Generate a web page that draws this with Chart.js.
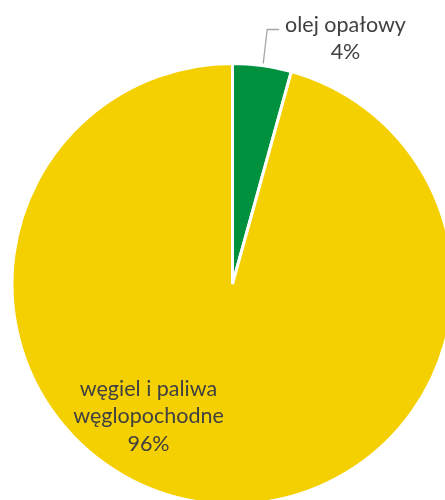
<!DOCTYPE html>
<html>
<head>
<meta charset="utf-8">
<script src="https://cdn.jsdelivr.net/npm/chart.js@4"></script>
<style>
  html, body { margin: 0; padding: 0; background: #fff; overflow: hidden; }
  #wrap { position: absolute; left: 0; top: 0; width: 465px; height: 568px; }
</style>
</head>
<body>
<div id="wrap"><canvas id="c"></canvas></div>
<script>
var categories = [['olej opałowy'], ['węgiel i paliwa', 'węglopochodne']];
var values = [4.3, 95.7];
var colors = ['#00913F', '#F5D000'];

// draws the two Excel-style data labels
var labelPlugin = {
  id: 'labels',
  afterDatasetsDraw: function (chart) {
    var ctx = chart.ctx;
    var arcs = chart.getDatasetMeta(0).data;
    var cx = arcs[0].x, cy = arcs[0].y, r = arcs[0].outerRadius;
    ctx.save();
    ctx.font = '21.5px Lato, "Open Sans", sans-serif';
    ctx.fillStyle = '#404040';
    ctx.textAlign = 'center';
    ctx.textBaseline = 'middle';

    // small slice: label outside with leader line
    var a = (arcs[0].startAngle + arcs[0].endAngle) / 2;
    var ex = cx + Math.cos(a) * r + 1, ey = cy + Math.sin(a) * r - 2;
    ctx.strokeStyle = '#A6A6A6';
    ctx.lineWidth = 1.3;
    ctx.beginPath();
    ctx.moveTo(ex, ey);
    ctx.lineTo(ex + 4, ey - 34);
    ctx.lineTo(ex + 16, ey - 34);
    ctx.stroke();
    var lines0 = categories[0].concat([Math.round(values[0]) + '%']);
    lines0.forEach(function (t, i) {
      ctx.fillText(t, cx + 113, cy - 259 + i * 27);
    });

    // big slice: label inside
    var lines1 = categories[1].concat([Math.round(values[1]) + '%']);
    lines1.forEach(function (t, i) {
      ctx.fillText(t, cx - 84, cy + 105 + i * 27.5);
    });
    ctx.restore();
  }
};

new Chart(document.getElementById('c'), {
  type: 'pie',
  data: {
    labels: categories.map(function (c) { return c.join(' '); }),
    datasets: [{
      data: values,
      backgroundColor: colors,
      borderColor: '#ffffff',
      borderWidth: 3
    }]
  },
  options: {
    responsive: true,
    maintainAspectRatio: false,
    animation: false,
    layout: { padding: { left: 10, right: 10, top: 62, bottom: 62 } },
    plugins: { legend: { display: false }, tooltip: { enabled: false } }
  },
  plugins: [labelPlugin]
});
</script>
</body>
</html>
